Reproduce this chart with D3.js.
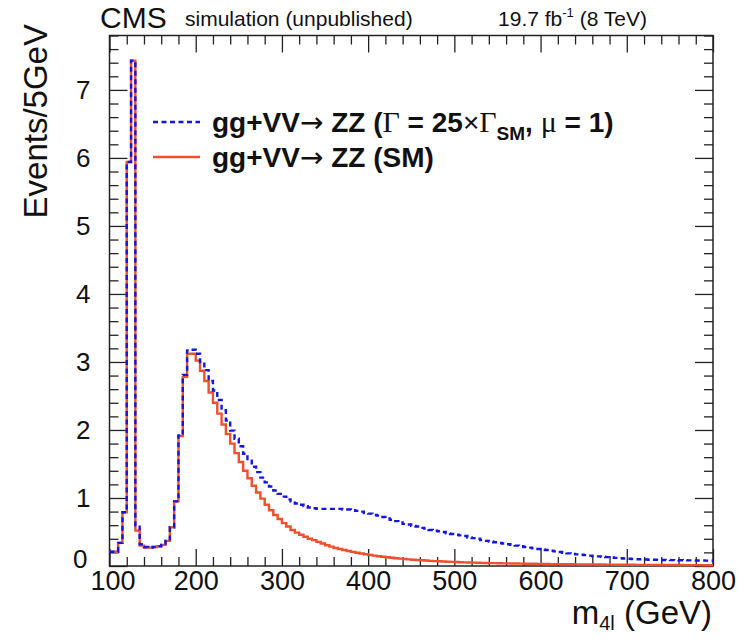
<!DOCTYPE html>
<html>
<head>
<meta charset="utf-8">
<script src="https://cdn.jsdelivr.net/npm/d3@7"></script>
<style>
  body { margin: 0; background: #fff; }
  text { font-family: "Liberation Sans", Arial, Helvetica, sans-serif; fill: #111; }
</style>
</head>
<body>
<div id="chart"></div>
<script>
// bin low edges, 5 GeV bins from 100 to 800
var binStart = 100, binWidth = 5, nBins = 140;

// gg+VV -> ZZ (SM), events per bin
var smValues = [
  0.21,0.21,0.34,0.79,5.94,7.43,0.52,0.30,0.27,0.27,
  0.28,0.29,0.31,0.37,0.57,0.95,1.91,2.78,3.12,3.12,
  3.02,2.87,2.72,2.55,2.40,2.24,2.08,1.94,1.80,1.66,
  1.53,1.40,1.29,1.18,1.08,0.99,0.90,0.82,0.75,0.69,
  0.63,0.58,0.53,0.49,0.46,0.43,0.40,0.38,0.355,0.33,
  0.305,0.285,0.265,0.25,0.235,0.22,0.207,0.195,0.183,0.172,
  0.162,0.152,0.143,0.135,0.128,0.121,0.115,0.109,0.103,0.098,
  0.093,0.088,0.084,0.080,0.076,0.072,0.069,0.066,0.063,0.060,
  0.058,0.056,0.054,0.052,0.050,0.048,0.046,0.045,0.043,0.042,
  0.040,0.039,0.038,0.037,0.036,0.035,0.034,0.033,0.032,0.031,
  0.030,0.029,0.028,0.028,0.027,0.026,0.025,0.025,0.024,0.023,
  0.023,0.022,0.022,0.021,0.021,0.020,0.020,0.019,0.019,0.018,
  0.018,0.018,0.017,0.017,0.016,0.016,0.016,0.015,0.015,0.015,
  0.014,0.014,0.014,0.013,0.013,0.013,0.013,0.012,0.012,0.012
];

// gg+VV -> ZZ (Gamma = 25 x Gamma_SM, mu = 1)
var wideValues = [
  0.21,0.21,0.34,0.79,5.94,7.43,0.60,0.32,0.28,0.27,
  0.28,0.29,0.31,0.37,0.57,0.95,1.92,2.81,3.17,3.18,
  3.12,3.00,2.88,2.72,2.58,2.44,2.29,2.14,1.99,1.87,
  1.76,1.65,1.55,1.46,1.38,1.30,1.23,1.17,1.11,1.06,
  1.02,0.98,0.95,0.92,0.90,0.88,0.86,0.85,0.84,0.84,
  0.84,0.84,0.84,0.84,0.83,0.83,0.82,0.81,0.80,0.78,
  0.77,0.75,0.74,0.72,0.70,0.68,0.66,0.64,0.62,0.61,
  0.59,0.58,0.56,0.55,0.53,0.52,0.51,0.50,0.48,0.47,
  0.46,0.45,0.44,0.42,0.41,0.40,0.38,0.37,0.36,0.35,
  0.34,0.33,0.32,0.31,0.30,0.29,0.28,0.27,0.26,0.25,
  0.245,0.235,0.225,0.215,0.205,0.195,0.185,0.178,0.171,0.165,
  0.16,0.153,0.147,0.141,0.135,0.13,0.125,0.12,0.115,0.11,
  0.106,0.102,0.099,0.097,0.095,0.093,0.091,0.09,0.089,0.088,
  0.087,0.086,0.085,0.084,0.083,0.082,0.081,0.080,0.079,0.078
];

var xTicks = [100,200,300,400,500,600,700,800];
var yTicks = [0,1,2,3,4,5,6,7];

var width = 739, height = 639;
var plotL = 109.5, plotR = 713, plotT = 35.5, plotB = 566;

var svg = d3.select("#chart").append("svg")
    .attr("width", width)
    .attr("height", height);

var x = d3.scaleLinear().domain([100, 800]).range([plotL, plotR]);
var y = d3.scaleLinear().domain([0, 7.8]).range([plotB, plotT]);

var edges = d3.range(nBins).map(function(i) { return binStart + i * binWidth; });

function histPoints(vals) {
  var pts = edges.map(function(e, i) { return [e, vals[i]]; });
  pts.push([800, vals[vals.length - 1]]);
  return pts;
}

var line = d3.line()
    .x(function(d) { return x(d[0]); })
    .y(function(d) { return y(d[1]); })
    .curve(d3.curveStepAfter);

var minorX = d3.range(100, 801, 20).filter(function(v) { return v % 100 != 0; });
var minorY = d3.range(0, 7.81, 0.2).filter(function(v) { return Math.abs(v - Math.round(v)) > 0.01; });

// axes, ROOT style: ticks pointing inside on all four sides
function styleAxis(g) {
  g.select(".domain").remove();
  g.selectAll(".tick line").attr("stroke", "#222").attr("stroke-width", 1.3);
}

svg.append("g").attr("transform", "translate(0," + plotB + ")")
  .call(d3.axisBottom(x).tickValues(xTicks).tickSizeInner(-17).tickPadding(5).tickFormat(d3.format("d")))
  .call(styleAxis)
  .selectAll("text").style("font-size", "27px").attr("fill", "#111")
  .attr("dx", function(d) { return d == 100 ? 3 : 0; });
svg.append("g").attr("transform", "translate(0," + plotB + ")")
  .call(d3.axisBottom(x).tickValues(minorX).tickSizeInner(-9).tickFormat(""))
  .call(styleAxis);
svg.append("g").attr("transform", "translate(0," + plotT + ")")
  .call(d3.axisTop(x).tickValues(xTicks).tickSizeInner(-17).tickFormat(""))
  .call(styleAxis);
svg.append("g").attr("transform", "translate(0," + plotT + ")")
  .call(d3.axisTop(x).tickValues(minorX).tickSizeInner(-9).tickFormat(""))
  .call(styleAxis);

svg.append("g").attr("transform", "translate(" + plotL + ",0)")
  .call(d3.axisLeft(y).tickValues(yTicks).tickSizeInner(-18).tickPadding(19).tickFormat(d3.format("d")))
  .call(styleAxis)
  .selectAll("text").style("font-size", "26px").attr("fill", "#111")
  .attr("transform", function(d) { return d == 0 ? "translate(-3,-7)" : null; });
svg.append("g").attr("transform", "translate(" + plotL + ",0)")
  .call(d3.axisLeft(y).tickValues(minorY).tickSizeInner(-9).tickFormat(""))
  .call(styleAxis);
svg.append("g").attr("transform", "translate(" + plotR + ",0)")
  .call(d3.axisRight(y).tickValues(yTicks).tickSizeInner(-18).tickFormat(""))
  .call(styleAxis);
svg.append("g").attr("transform", "translate(" + plotR + ",0)")
  .call(d3.axisRight(y).tickValues(minorY).tickSizeInner(-9).tickFormat(""))
  .call(styleAxis);

// frame
svg.append("rect")
  .attr("x", plotL).attr("y", plotT)
  .attr("width", plotR - plotL).attr("height", plotB - plotT)
  .attr("fill", "none").attr("stroke", "#222").attr("stroke-width", 1.5);

// histograms
svg.append("path")
  .datum(histPoints(smValues))
  .attr("d", line)
  .attr("fill", "none")
  .attr("stroke", "#f0502d")
  .attr("stroke-width", 2.4);

svg.append("path")
  .datum(histPoints(wideValues))
  .attr("d", line)
  .attr("fill", "none")
  .attr("stroke", "#1414e6")
  .attr("stroke-width", 2.4)
  .attr("stroke-dasharray", "5,3.5");

// legend
var leg = svg.append("g");
leg.append("line").attr("x1", 153).attr("x2", 200).attr("y1", 122).attr("y2", 122)
  .attr("stroke", "#1414e6").attr("stroke-width", 2.4).attr("stroke-dasharray", "5,3.5");
leg.append("line").attr("x1", 153).attr("x2", 200).attr("y1", 157).attr("y2", 157)
  .attr("stroke", "#f0502d").attr("stroke-width", 2.4);

var arrowFont = '"DejaVu Sans", sans-serif';
var greekFont = '"Liberation Serif", "DejaVu Serif", serif';
var t1 = leg.append("text").attr("x", 212).attr("y", 132).style("font-size", "28px").style("font-weight", "bold");
t1.append("tspan").text("gg+VV");
t1.append("tspan").style("font-family", arrowFont).style("font-weight", "normal").text("\u2192");
t1.append("tspan").text(" ZZ (");
t1.append("tspan").style("font-family", greekFont).style("font-weight", "normal").style("font-size", "30px").text("\u0393");
t1.append("tspan").text(" = 25");
t1.append("tspan").style("font-weight", "normal").text("\u00d7");
t1.append("tspan").style("font-family", greekFont).style("font-weight", "normal").style("font-size", "30px").text("\u0393");
t1.append("tspan").attr("dy", 8).style("font-size", "19px").text("SM");
t1.append("tspan").attr("dy", -8).text(", ");
t1.append("tspan").style("font-family", greekFont).style("font-weight", "normal").style("font-size", "30px").text("\u03bc");
t1.append("tspan").text(" = 1)");

var t2 = leg.append("text").attr("x", 212).attr("y", 167)
  .style("font-size", "28px").style("font-weight", "bold");
t2.append("tspan").text("gg+VV");
t2.append("tspan").style("font-family", arrowFont).style("font-weight", "normal").text("\u2192");
t2.append("tspan").text(" ZZ (SM)");

// header
svg.append("text").attr("x", 100).attr("y", 28).style("font-size", "30px").text("CMS");
svg.append("text").attr("x", 185).attr("y", 26).style("font-size", "21px").text("simulation (unpublished)");
var lumi = svg.append("text").attr("x", 647).attr("y", 26).attr("text-anchor", "end").style("font-size", "21px");
lumi.append("tspan").text("19.7 fb");
lumi.append("tspan").attr("dy", -9).style("font-size", "13px").text("-1");
lumi.append("tspan").attr("dy", 9).text(" (8 TeV)");

// axis titles
svg.append("text")
  .attr("transform", "translate(47,24) rotate(-90)")
  .attr("text-anchor", "end")
  .style("font-size", "33px")
  .text("Events/5GeV");

var xt = svg.append("text").attr("x", 712).attr("y", 624).attr("text-anchor", "end").style("font-size", "33px");
xt.append("tspan").text("m");
xt.append("tspan").attr("dy", 6).style("font-size", "20px").text("4l");
xt.append("tspan").attr("dy", -6).text(" (GeV)");
</script>
</body>
</html>
